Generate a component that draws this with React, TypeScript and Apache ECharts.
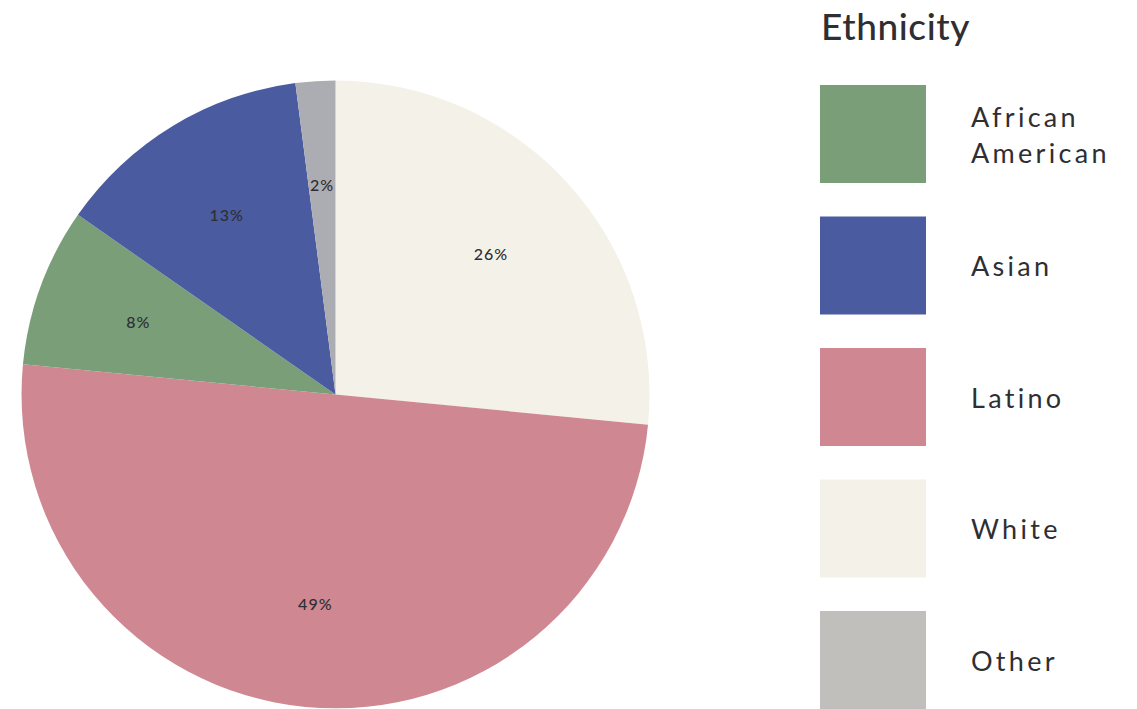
import React, { useEffect, useRef } from "react";
import * as echarts from "echarts";

// Slices in drawing order (clockwise from 12 o'clock)
const sliceNames = ["White", "Latino", "African American", "Asian", "Other"];
const sliceValues = [26, 49, 8, 13, 2];
const sliceColors = ["#F4F2E8", "#CF8891", "#7A9E78", "#4A5BA0", "#ACADB2"];

// Legend (its own order and swatch colours)
const legendNames = ["African\nAmerican", "Asian", "Latino", "White", "Other"];
const legendColors = ["#7A9E78", "#4A5BA0", "#CF8891", "#F4F2E8", "#C0BFBC"];

const titleText = "Ethnicity";
const FONT = "Lato, 'Noto Sans', sans-serif";

export default function App() {
  const ref = useRef<HTMLDivElement>(null);
  useEffect(() => {
    if (!ref.current) return;
    const el = ref.current;
    const chart = echarts.init(el, undefined, { renderer: "svg" });
    const cx = 335.5;
    const cy = 394.5;
    const r = 314;

    const legendGraphics: any[] = [];
    legendNames.forEach((name, i) => {
      const top = 85 + i * 131.5;
      legendGraphics.push({
        type: "rect",
        shape: { x: 820, y: top, width: 106, height: 98 },
        style: { fill: legendColors[i] },
        silent: true,
      });
      legendGraphics.push({
        type: "text",
        x: 971,
        y: top + 49,
        style: {
          text: name,
          fill: "#2E2E33",
          font: `400 27px ${FONT}`,
          lineHeight: 36,
          verticalAlign: "middle",
          align: "left",
        },
        silent: true,
      });
    });

    const data = sliceNames.map((n, i) => ({
      name: n,
      value: sliceValues[i],
      itemStyle: { color: sliceColors[i] },
    }));

    chart.setOption({
      animation: false,
      backgroundColor: "#ffffff",
      graphic: [
        {
          type: "text",
          x: 821,
          y: 7,
          style: {
            text: titleText,
            fill: "#2E2E33",
            font: `500 37px ${FONT}`,
            verticalAlign: "top",
          },
          silent: true,
        },
        ...legendGraphics,
      ],
      series: [
        {
          type: "pie",
          center: [cx, cy],
          radius: [0, r],
          startAngle: 90,
          clockwise: true,
          silent: true,
          label: { show: false },
          labelLine: { show: false },
          itemStyle: { borderWidth: 0 },
          data,
        },
        {
          type: "pie",
          center: [cx, cy],
          radius: [100, r],
          startAngle: 90,
          clockwise: true,
          silent: true,
          itemStyle: { color: "transparent", borderWidth: 0 },
          label: {
            show: true,
            position: "inside",
            formatter: "{c}%",
            color: "#2E2E33",
            fontFamily: FONT,
            fontSize: 16,
            fontWeight: 500,
          },
          labelLine: { show: false },
          data: sliceNames.map((n, i) => ({ name: n, value: sliceValues[i] })),
        },
      ],
    });

    const applySpacing = () => {
      const texts = el.querySelectorAll("text");
      texts.forEach((t) => {
        const s = (t.textContent || "").trim();
        if (s === titleText) {
          t.setAttribute("letter-spacing", "0.6");
        } else if (s.endsWith("%")) {
          t.setAttribute("letter-spacing", "1");
        } else if (s.length > 0) {
          t.setAttribute("letter-spacing", "3.3");
        }
      });
    };
    applySpacing();
    chart.on("finished", applySpacing);
    const tm = setTimeout(applySpacing, 50);

    return () => {
      clearTimeout(tm);
      chart.dispose();
    };
  }, []);
  return (
    <div
      ref={ref}
      style={{ position: "fixed", left: 0, top: 0, width: 1137, height: 709 }}
    />
  );
}
